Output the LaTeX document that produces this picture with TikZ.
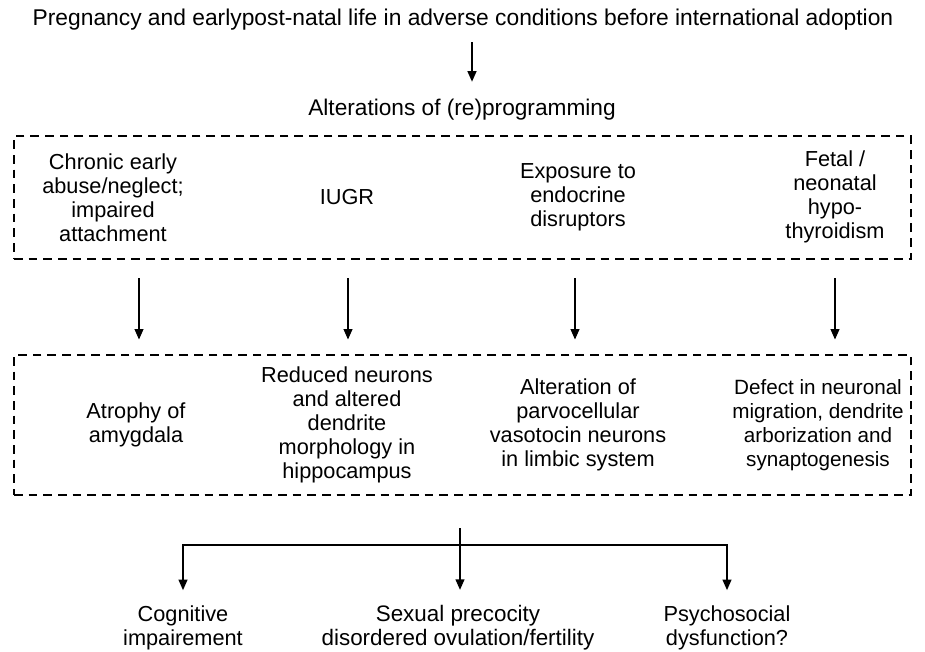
\documentclass[tikz,border=0pt]{standalone}
\usepackage{fontspec}
\setmainfont{Liberation Sans}
\usetikzlibrary{arrows.meta,fit}

\tikzset{
  tip/.tip={Triangle[length=8pt,width=6.5pt]},
  txt/.style={align=center, inner sep=1pt},
  dbox/.style={draw, line width=2pt, dash pattern=on 6.5pt off 4.5pt, inner sep=0pt},
  arr/.style={line width=1.6pt, -tip},
}

\begin{document}
\begin{tikzpicture}[x=0.75pt,y=-0.75pt,font=\fontsize{16.3}{18}\selectfont]
  \useasboundingbox (0,0) rectangle (925,651);

  \node[txt, font=\fontsize{17.1}{18}\selectfont] (origin) at (463,20) {Pregnancy and earlypost-natal life in adverse conditions before international adoption};
  \node[txt, font=\fontsize{17}{18}\selectfont] (alter) at (462,110) {Alterations of (re)programming};
  \draw[arr, shorten <=7.5pt, shorten >=12pt] ([xshift=6.75pt]origin.south) -- ([xshift=7.5pt]alter.north);

  \node[dbox, fit={(14,136) (911,259)}] (causes) {};
  \node[txt] (abuse) at (113,198) {Chronic early\\abuse/neglect;\\impaired\\attachment};
  \node[txt] (iugr) at (347,197) {IUGR};
  \node[txt] (disrupt) at (578,197) {Exposure to\\endocrine\\disruptors};
  \node[txt] (thyroid) at (835,197) {Fetal /\\neonatal\\hypo-\\thyroidism};

  \node[dbox, fit={(14,355) (911,495)}] (effects) {};
  \node[txt] (amygdala) at (136,425) {Atrophy of\\amygdala};
  \node[txt] (hippo) at (347,425) {Reduced neurons\\and altered\\dendrite\\morphology in\\hippocampus};
  \node[txt] (limbic) at (578,425) {Alteration of\\parvocellular\\vasotocin neurons\\in limbic system};
  \node[txt, font=\fontsize{15.5}{18}\selectfont] (synapse) at (818,425) {Defect in neuronal\\migration, dendrite\\arborization and\\synaptogenesis};

  \coordinate (a1) at (139,0);
  \coordinate (a2) at (348,0);
  \coordinate (a3) at (575,0);
  \coordinate (a4) at (835,0);
  \foreach \a in {a1,a2,a3,a4}
    \draw[arr, shorten <=13.5pt, shorten >=10.5pt] (causes.south -| \a) -- (effects.north -| \a);

  \node[txt] (cognitive) at (183,628) {Cognitive\\impairement};
  \node[txt, font=\fontsize{16.8}{18}\selectfont] (precocity) at (458,628) {Sexual precocity\\disordered ovulation/fertility};
  \node[txt] (psycho) at (727,628) {Psychosocial\\dysfunction?};

  \coordinate (split) at (460,545);
  \draw[arr, shorten <=24pt, shorten >=10.5pt] (effects.south -| split) -- (precocity.north -| split);
  \draw[line width=1.6pt, tip-tip, shorten <=10.5pt, shorten >=10.5pt]
    (cognitive.north) -- (cognitive.north |- split) -- (psycho.north |- split) -- (psycho.north);
\end{tikzpicture}
\end{document}
